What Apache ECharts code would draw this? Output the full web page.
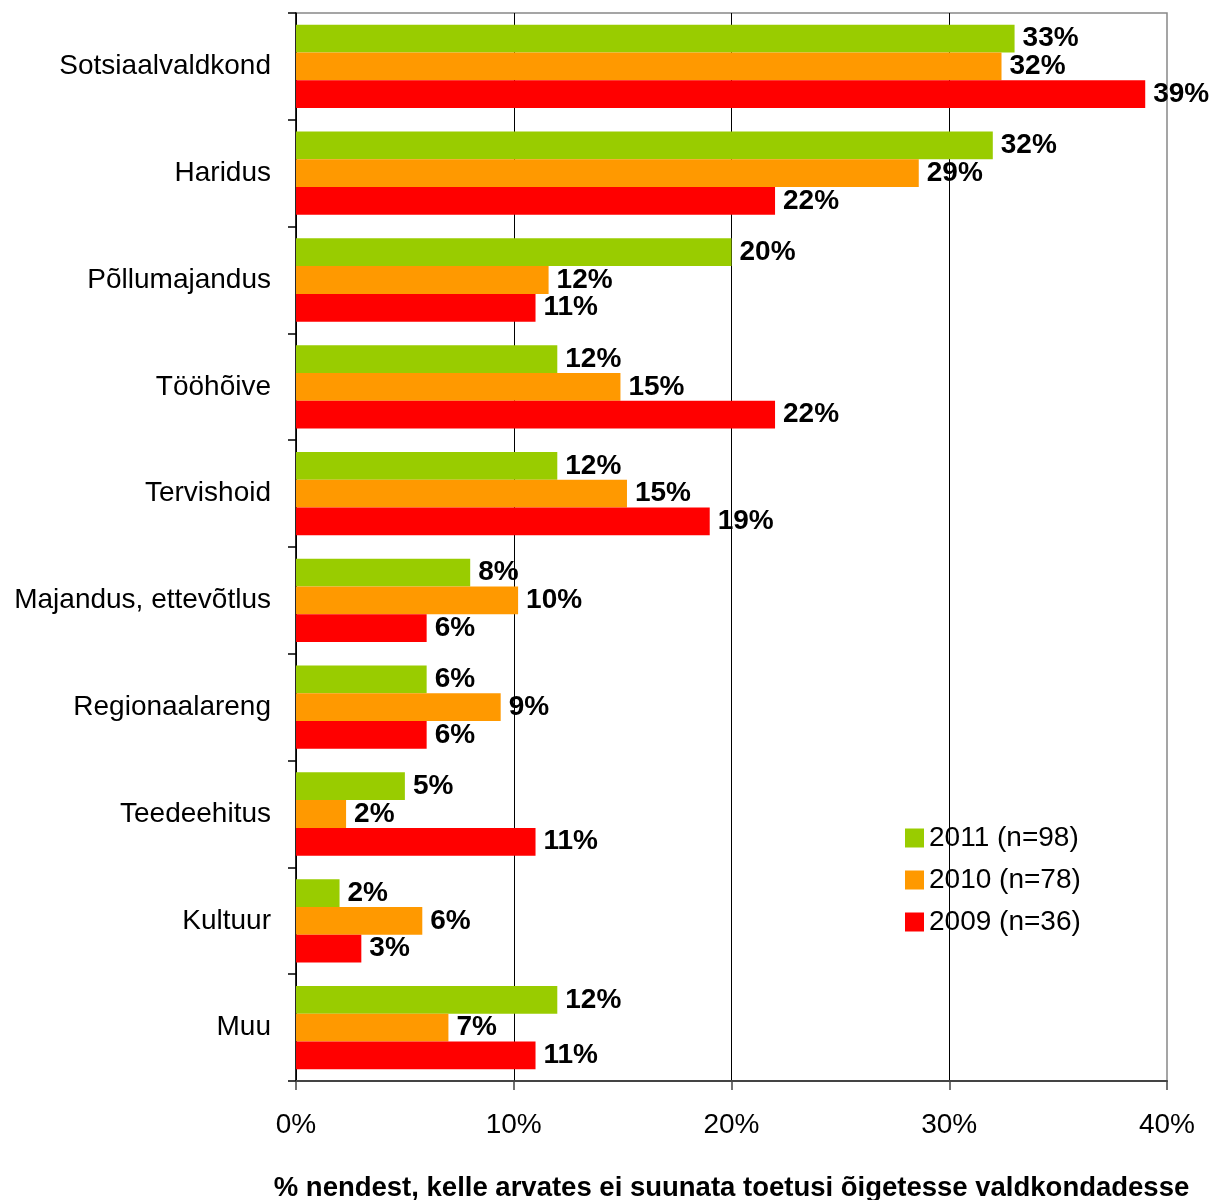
<!DOCTYPE html>
<html>
<head>
<meta charset="utf-8">
<script src="https://cdn.jsdelivr.net/npm/echarts@6/dist/echarts.min.js"></script>
<style>html,body{margin:0;padding:0;background:#fff}#c{width:1216px;height:1200px}</style>
</head>
<body>
<div id="c"></div>
<script>
const categories = ['Sotsiaalvaldkond','Haridus','Põllumajandus','Tööhõive','Tervishoid','Majandus, ettevõtlus','Regionaalareng','Teedeehitus','Kultuur','Muu'];
const seriesNames = ['2011 (n=98)','2010 (n=78)','2009 (n=36)'];
const v2011 = [33.0, 32.0, 20.0, 12.0, 12.0, 8.0, 6.0, 5.0, 2.0, 12.0];
const v2010 = [32.4, 28.6, 11.6, 14.9, 15.2, 10.2, 9.4, 2.3, 5.8, 7.0];
const v2009 = [39.0, 22.0, 11.0, 22.0, 19.0, 6.0, 6.0, 11.0, 3.0, 11.0];
const xTicks = [0, 10, 20, 30, 40];
const axisTitle = '% nendest, kelle arvates ei suunata toetusi õigetesse valdkondadesse';

const FONT = '"Liberation Sans", Arial, sans-serif';
const colors = ['#99CC00', '#FF9900', '#FF0000'];
const chart = echarts.init(document.getElementById('c'), null, {renderer: 'canvas'});
function mk(name, data, color) {
  return {
    name, type: 'bar', data, barGap: '0%', barCategoryGap: '22%',
    itemStyle: {color},
    label: {show: true, position: 'right', distance: 8, color: '#000', fontFamily: FONT, fontWeight: 'bold', fontSize: 28,
      formatter: p => Math.round(p.value) + '%'},
    animation: false
  };
}
chart.setOption({
  animation: false,
  textStyle: {fontFamily: FONT},
  grid: {left: 296, right: 49, top: 13, bottom: 119, outerBoundsMode: 'none', containLabel: false,
    show: true, borderColor: '#888', borderWidth: 1.5, backgroundColor: 'transparent'},
  legend: {
    orient: 'vertical', left: 905, top: 824, padding: 0, itemGap: 14,
    itemWidth: 19, itemHeight: 19, icon: 'rect',
    textStyle: {fontFamily: FONT, fontSize: 28, color: '#000', lineHeight: 28},
    data: seriesNames
  },
  xAxis: {
    type: 'value', min: 0, max: 40, interval: 10,
    axisLine: {show: true, lineStyle: {color: '#444', width: 2}},
    axisTick: {show: true, length: 9, lineStyle: {color: '#444', width: 1.5}},
    axisLabel: {margin: 30, fontSize: 28, color: '#000', fontFamily: FONT,
      formatter: v => xTicks.includes(v) ? v + '%' : ''},
    splitLine: {show: true, showMaxLine: false, lineStyle: {color: '#000', width: 1}},
    name: axisTitle, nameLocation: 'middle', nameGap: 93,
    nameTextStyle: {fontFamily: FONT, fontWeight: 'bold', fontSize: 27.5, color: '#000', verticalAlign: 'top'}
  },
  yAxis: {
    type: 'category', data: categories, inverse: true,
    axisLine: {show: true, lineStyle: {color: '#000', width: 1.5}},
    axisTick: {show: true, length: 8, alignWithLabel: false, lineStyle: {color: '#000', width: 1.5}},
    axisLabel: {margin: 25, fontSize: 28, color: '#000', fontFamily: FONT},
    splitLine: {show: false}
  },
  series: [mk(seriesNames[0], v2011, colors[0]), mk(seriesNames[1], v2010, colors[1]), mk(seriesNames[2], v2009, colors[2])]
});
</script>
</body>
</html>
